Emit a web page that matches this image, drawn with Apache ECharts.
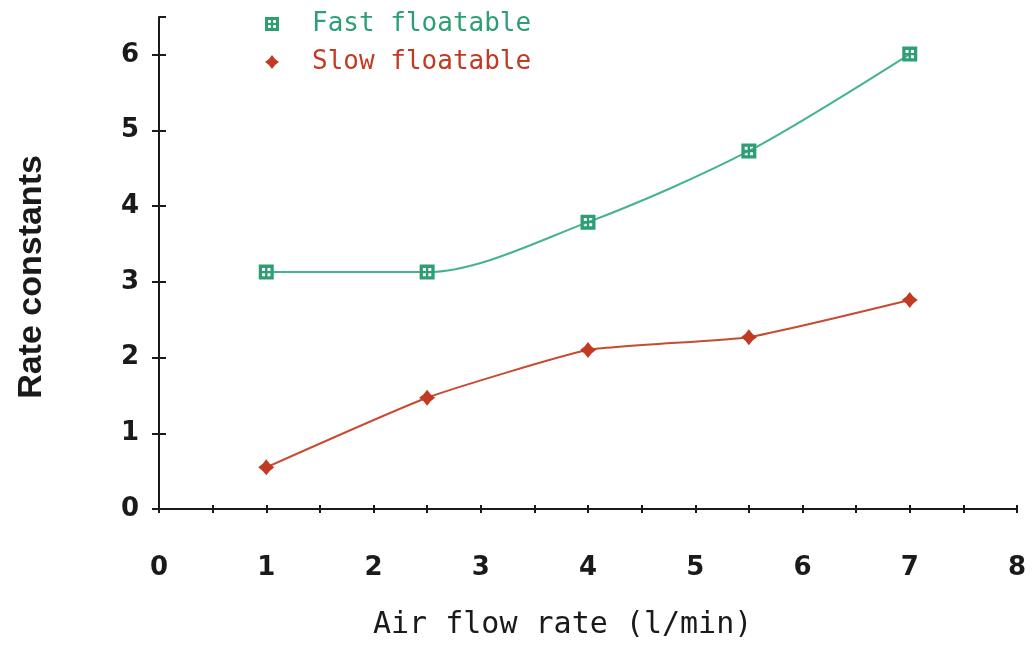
<!DOCTYPE html>
<html>
<head>
<meta charset="utf-8">
<script src="https://cdn.jsdelivr.net/npm/echarts@6/dist/echarts.min.js"></script>
<style>
  html, body { margin: 0; padding: 0; background: #fff; }
  #main { width: 1034px; height: 651px; }
</style>
</head>
<body>
<div id="main"></div>
<script>
// air flow rate (l/min)
var airFlow = [1, 2.5, 4, 5.5, 7];
var fastFloatable = [3.13, 3.13, 3.79, 4.73, 6.01];
var slowFloatable = [0.55, 1.47, 2.10, 2.27, 2.76];
var xTickLabels = [0, 1, 2, 3, 4, 5, 6, 7, 8];
var xMinorTicks = [0, 0.5, 1, 1.5, 2, 2.5, 3, 3.5, 4, 4.5, 5, 5.5, 6, 6.5, 7, 7.5, 8];
var yTickLabels = [0, 1, 2, 3, 4, 5, 6];

var green = '#2e9e74';
var red = '#c23a22';
// square with four little holes (plotter style marker)
var fastSymbol = 'path://M0 0L10 0L10 10L0 10Z M2.2 2.2L2.2 4.2L4.2 4.2L4.2 2.2Z M5.8 2.2L5.8 4.2L7.8 4.2L7.8 2.2Z M2.2 5.8L2.2 7.8L4.2 7.8L4.2 5.8Z M5.8 5.8L5.8 7.8L7.8 7.8L7.8 5.8Z';
var slowSymbol = 'path://M5 0L7.2 2.8L10 5L7.2 7.2L5 10L2.8 7.2L0 5L2.8 2.8Z';

function pairs(xs, ys) {
  var out = [];
  for (var i = 0; i < xs.length; i++) out.push([xs[i], ys[i]]);
  return out;
}

var chart = echarts.init(document.getElementById('main'));
var labelFont = { color: '#1a1a1a', fontSize: 26, fontWeight: 'bold', fontFamily: 'DejaVu Sans' };
var tickStyle = { color: '#1a1a1a', width: 2 };

var option = {
  backgroundColor: '#fff',
  animation: false,
  grid: { left: 159, right: 17, top: 17, bottom: 142 },
  legend: {
    orient: 'vertical',
    left: 260,
    top: 6,
    itemGap: 12,
    itemWidth: 14,
    itemHeight: 14,
    textStyle: { fontFamily: 'DejaVu Sans Mono', fontSize: 26, padding: [0, 0, 0, 28] },
    data: [
      { name: 'Fast floatable', icon: fastSymbol, textStyle: { color: green } },
      { name: 'Slow floatable', icon: slowSymbol, textStyle: { color: red } }
    ]
  },
  xAxis: [
    {
      type: 'value', min: 0, max: 8,
      axisLine: { show: true, onZero: false, lineStyle: { color: '#1a1a1a', width: 2 } },
      axisTick: { show: true, length: 4, customValues: xMinorTicks, lineStyle: tickStyle },
      axisLabel: Object.assign({ margin: 46, customValues: xTickLabels }, labelFont),
      splitLine: { show: false }
    },
    {
      type: 'value', min: 0, max: 8, interval: 0.5, position: 'bottom',
      axisLine: { show: false, onZero: false },
      axisTick: { show: true, inside: true, length: 4, lineStyle: tickStyle },
      axisLabel: { show: false },
      splitLine: { show: false }
    }
  ],
  yAxis: [
    {
      type: 'value', min: 0, max: 6.5,
      name: 'Rate constants',
      nameLocation: 'middle',
      nameGap: 110,
      nameTextStyle: { color: '#1a1a1a', fontSize: 34, fontWeight: 'bold', fontFamily: 'Liberation Sans', padding: [0, 28, 0, 0] },
      axisLine: { show: true, onZero: false, lineStyle: { color: '#1a1a1a', width: 2 } },
      axisTick: { show: true, length: 7, customValues: yTickLabels, lineStyle: tickStyle },
      axisLabel: Object.assign({ margin: 20, customValues: yTickLabels }, labelFont),
      splitLine: { show: false }
    },
    {
      type: 'value', min: 0, max: 6.5, interval: 1, position: 'left',
      axisLine: { show: false, onZero: false },
      axisTick: { show: true, inside: true, length: 7, lineStyle: tickStyle },
      axisLabel: { show: false },
      splitLine: { show: false }
    }
  ],
  graphic: [
    {
      type: 'text', left: 373, top: 610,
      style: { text: 'Air flow rate (l/min)', fill: '#1a1a1a', font: '30px "DejaVu Sans Mono"' }
    }
  ],
  series: [
    {
      name: 'Fast floatable',
      type: 'line',
      smooth: 0.3,
      data: pairs(airFlow, fastFloatable),
      symbol: fastSymbol,
      symbolSize: 15,
      itemStyle: { color: green },
      lineStyle: { color: '#45b48a', width: 2 }
    },
    {
      name: 'Slow floatable',
      type: 'line',
      smooth: 0.15,
      data: pairs(airFlow, slowFloatable),
      symbol: slowSymbol,
      symbolSize: 16,
      itemStyle: { color: red },
      lineStyle: { color: '#c84a30', width: 2 }
    }
  ]
};

chart.setOption(option);
</script>
</body>
</html>
